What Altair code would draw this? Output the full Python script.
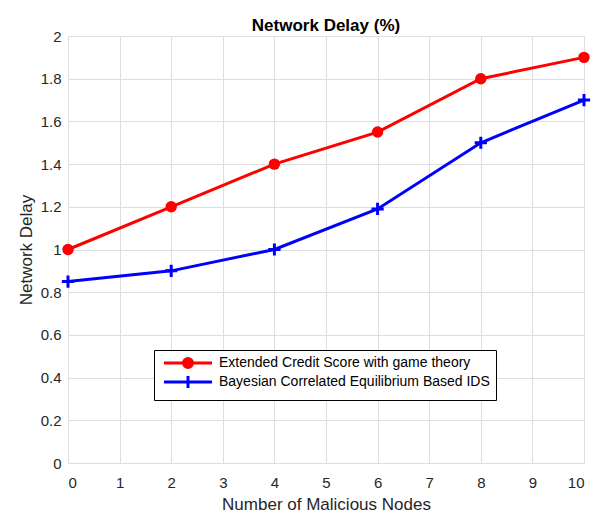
import altair as alt
import pandas as pd

x_vals = [0, 2, 4, 6, 8, 10]
red_vals = [1.0, 1.2, 1.4, 1.55, 1.8, 1.9]
blue_vals = [0.85, 0.9, 1.0, 1.19, 1.5, 1.7]
series_names = ["Extended Credit Score with game theory",
                "Bayesian Correlated Equilibrium Based IDS"]
series_colors = ["#ff0000", "#0000ff"]
x_ticks = [0, 1, 2, 3, 4, 5, 6, 7, 8, 9, 10]
y_ticks = [0, 0.2, 0.4, 0.6, 0.8, 1.0, 1.2, 1.4, 1.6, 1.8, 2.0]

rows = []
for xv, rv in zip(x_vals, red_vals):
    rows.append({"x": xv, "y": rv, "series": series_names[0]})
for xv, bv in zip(x_vals, blue_vals):
    rows.append({"x": xv, "y": bv, "series": series_names[1]})
df = pd.DataFrame(rows)

FONT = "Liberation Sans"
TXT = "#262626"

xs = alt.X("x:Q", scale=alt.Scale(domain=[0, 10], nice=False),
           axis=alt.Axis(values=x_ticks, title="Number of Malicious Nodes", format="d",
                         grid=True, gridColor="#dedede", tickSize=0, labelPadding=12,
                         labelFontSize=15, labelColor=TXT, labelFont=FONT,
                         titleFontSize=17, titleFont=FONT, titleColor=TXT,
                         titleFontWeight="normal", titlePadding=6, domain=False))
ys = alt.Y("y:Q", scale=alt.Scale(domain=[0, 2], nice=False),
           axis=alt.Axis(values=y_ticks, title="Network Delay", format="~g",
                         grid=True, gridColor="#dedede", tickSize=0, labelPadding=7,
                         labelFontSize=15, labelColor=TXT, labelFont=FONT,
                         titleFontSize=17, titleFont=FONT, titleColor=TXT,
                         titleFontWeight="normal", titlePadding=5, domain=False))

base = alt.Chart(df)

red_line = base.transform_filter(alt.datum.series == series_names[0]).mark_line(
    strokeWidth=3, color=series_colors[0]).encode(x=xs, y=ys)
blue_line = base.transform_filter(alt.datum.series == series_names[1]).mark_line(
    strokeWidth=3, color=series_colors[1]).encode(x="x:Q", y="y:Q")

red_pts = base.transform_filter(
    alt.datum.series == series_names[0]
).mark_point(shape="circle", filled=True, size=130, opacity=1, color=series_colors[0]).encode(
    x="x:Q", y="y:Q")

blue_pts = base.transform_filter(
    alt.datum.series == series_names[1]
).mark_point(shape="M-1,0H1M0,-1V1", filled=False, size=150, opacity=1,
             strokeWidth=3, color=series_colors[1]).encode(x="x:Q", y="y:Q")

# legend-only layer (zero-size marks)
legend_shapes = [
    "M-24,0H24M-4.5,0A4.5,4.5,0,1,1,4.5,0A4.5,4.5,0,1,1,-4.5,0M-2.5,0A2.5,2.5,0,1,1,2.5,0A2.5,2.5,0,1,1,-2.5,0M-0.8,0A0.8,0.8,0,1,1,0.8,0A0.8,0.8,0,1,1,-0.8,0",
    "M-24,0H24M0,-6V6",
]
leg = alt.Legend(orient="none", legendX=86, legendY=314,
                 padding=6, strokeColor="#000000", fillColor="#ffffff",
                 symbolSize=4, symbolStrokeWidth=3, symbolOffset=21,
                 labelOffset=24, labelFontSize=14, labelFont=FONT,
                 labelColor="#000000", rowPadding=-4, labelLimit=400,
                 title=None)
legend_layer = base.mark_point(filled=False, opacity=1, strokeWidth=3, size=0).encode(
    x="x:Q", y="y:Q",
    color=alt.Color("series:N", scale=alt.Scale(domain=series_names, range=series_colors),
                    title=None, legend=leg),
    shape=alt.Shape("series:N", scale=alt.Scale(domain=series_names, range=legend_shapes),
                    title=None, legend=leg),
)

chart = alt.layer(red_line, blue_line, red_pts, blue_pts, legend_layer).properties(
    width=516, height=427,
    title=alt.TitleParams("Network Delay (%)", fontSize=17, font=FONT, fontWeight="bold",
                          color="#000000", offset=6, dy=12),
    autosize=alt.AutoSizeParams(type="none"),
    padding={"left": 60, "top": 28, "right": 10, "bottom": 52},
).configure_view(stroke="#000000", strokeWidth=1).configure(background="#ffffff")

chart.save("out.html", embed_options={"renderer": "svg", "actions": False})
